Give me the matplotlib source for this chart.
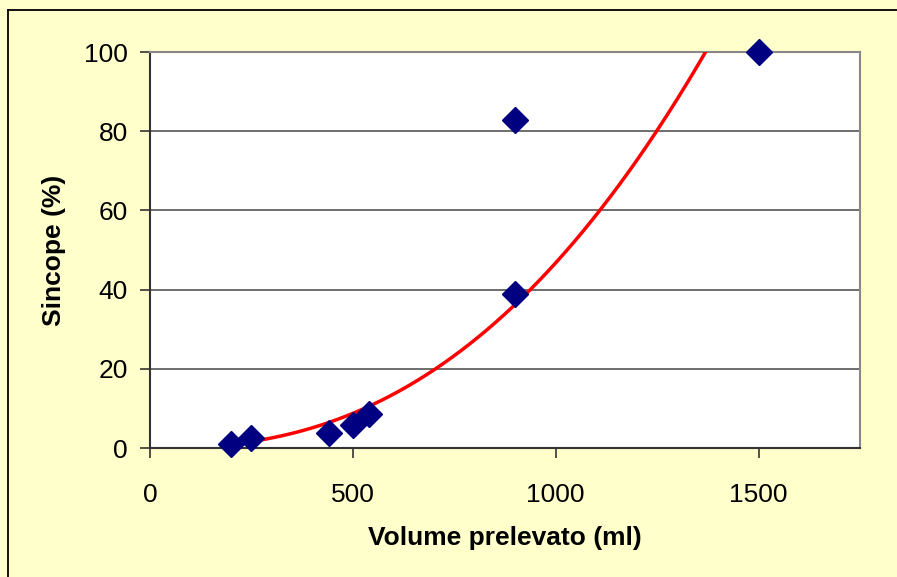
import numpy as np
import matplotlib
matplotlib.use("Agg")
import matplotlib.pyplot as plt
from matplotlib.lines import Line2D

# data
volume = [200, 250, 440, 500, 540, 900, 900, 1500]
sincope = [1.0, 2.5, 3.8, 5.8, 8.5, 82.8, 39.0, 100.0]

x_ticks = [0, 500, 1000, 1500]
y_ticks = [0, 20, 40, 60, 80, 100]

plt.rcParams['font.family'] = ['Liberation Sans', 'DejaVu Sans']

fig = plt.figure(figsize=(8.97, 5.77), dpi=100)
fig.patch.set_facecolor('#FFFFCC')
fig.patch.set_edgecolor('none')
fig.patch.set_linewidth(0)

W, H = 897, 577
ax = fig.add_axes([150 / W, 1 - 448 / H, 710 / W, 396 / H])
ax.set_facecolor('white')

# outer frame of the chart (only top and left edges are visible)
fig.lines.append(Line2D([8 / W, 8 / W], [0, 1 - 10 / H],
                        transform=fig.transFigure, color='black',
                        linewidth=1.3))
fig.lines.append(Line2D([8 / W, 1.0], [1 - 10 / H, 1 - 10 / H],
                        transform=fig.transFigure, color='black',
                        linewidth=1.3))

# grid lines
for y in y_ticks[1:]:
    ax.axhline(y, color='#555555', linewidth=1.2, zorder=1)

# power trendline fitted to the points (like the Excel trendline)
b, a = np.polyfit(np.log(volume), np.log(sincope), 1)
xs = np.linspace(200, 1500, 300)
ax.plot(xs, np.exp(a) * xs ** b, color='red', linewidth=2.5, zorder=3)

ax.plot(volume, sincope, linestyle='none', marker='D', markersize=13,
        color='#000080', zorder=4, clip_on=False)

ax.set_xlim(0, 1750)
ax.set_ylim(0, 100)
ax.set_xticks(x_ticks)
ax.set_yticks(y_ticks)
ax.tick_params(axis='both', labelsize=19, direction='out', length=7,
               width=1.2, colors='#333333', labelcolor='black')
ax.tick_params(axis='y', pad=9)
ax.tick_params(axis='x', pad=18)

for side in ['top', 'right']:
    ax.spines[side].set_color('#888888')
    ax.spines[side].set_linewidth(1.5)
for side in ['left', 'bottom']:
    ax.spines[side].set_color('#333333')
    ax.spines[side].set_linewidth(1.5)

ax.set_xlabel('Volume prelevato (ml)', fontsize=19, fontweight='bold',
              labelpad=14)
ax.set_ylabel('Sincope (%)', fontsize=19, fontweight='bold', labelpad=13)

fig.savefig('out.png', dpi=100, facecolor=fig.get_facecolor())
